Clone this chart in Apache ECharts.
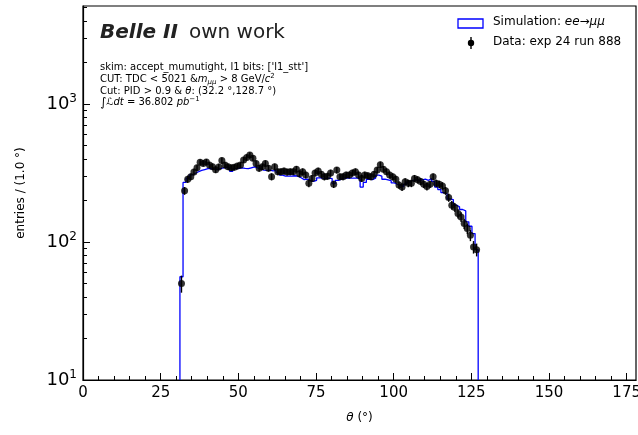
<!DOCTYPE html>
<html><head><meta charset="utf-8">
<script src="https://cdn.jsdelivr.net/npm/echarts@6/dist/echarts.min.js"></script>
<style>html,body{margin:0;padding:0;background:#fff}#c{width:638px;height:435px}</style>
</head><body><div id="c"></div><script>
// ---- data ----
const binStart = 31.2;   // first bin edge (deg)
const binWidth = 1.0;    // deg
const dataCounts = [50,235,285,297,321,345,378,371,380,361,
351,334,350,389,361,351,345,348,355,361,
392,410,427,405,370,342,351,371,342,297,
351,323,323,327,321,323,323,337,312,323,
306,266,289,316,327,310,297,300,316,262,
332,297,297,306,306,316,323,306,289,306,
302,297,310,332,363,337,323,306,297,285,
259,250,273,266,266,289,282,274,262,252,
262,297,266,262,255,235,210,185,178,161,
152,136,125,112,92,88];
const simCounts = [56,270,290,306,315,323,330,335,340,340,
338,335,340,345,348,345,325,340,342,345,
342,340,345,350,345,338,332,330,332,328,
330,318,305,300,300,300,302,300,292,283,
285,280,275,280,292,290,288,290,288,265,
280,285,290,292,290,290,290,288,250,270,
285,283,290,305,300,285,282,278,268,262,
258,252,262,272,280,282,278,282,285,280,
288,275,250,240,228,224,205,203,185,180,
172,168,140,130,115,88];
const xMajorTicks = [0,25,50,75,100,125,150,175];
const xMinorTicks = [5,10,15,20,30,35,40,45,55,60,65,70,80,85,90,95,105,110,115,120,130,135,140,145,155,160,165,170];
const yMajorTicks = [10,100,1000];
const yMinorTicks = [20,30,40,50,60,70,80,90,200,300,400,500,600,700,800,900,2000,3000,4000,5000];
const xRange = [0, 178];
const yRange = [10, 5130];

// ---- build series ----
const simLine = [[binStart, yRange[0]]];
simCounts.forEach((v, i) => simLine.push([binStart + i * binWidth, v]));
simLine.push([binStart + simCounts.length * binWidth, simCounts[simCounts.length - 1]]);
simLine.push([binStart + simCounts.length * binWidth, yRange[0]]);
const dataPts = dataCounts.map((v, i) => [binStart + (i + 0.5) * binWidth, v, Math.sqrt(v)]);

const FONT = 'DejaVu Sans';
const chart = echarts.init(document.getElementById('c'), null, {renderer: 'canvas'});
const tickStyle = {color: '#000', width: 1};
chart.setOption({
  animation: false,
  backgroundColor: '#fff',
  grid: {left: 83, right: 2, top: 6, bottom: 55, outerBoundsMode: 'none', containLabel: false,
    show: true, borderColor: '#000', borderWidth: 1.2, backgroundColor: 'transparent'},
  xAxis: [{
    type: 'value', min: xRange[0], max: xRange[1],
    axisLine: {show: true, lineStyle: {color: '#000', width: 1.2}},
    axisTick: {show: true, inside: true, length: 7, customValues: xMajorTicks, lineStyle: tickStyle},
    axisLabel: {customValues: xMajorTicks, color: '#000', fontFamily: FONT, fontSize: 15, margin: 6, hideOverlap: false},
    splitLine: {show: false},
    name: '{i|θ} (°)', nameLocation: 'middle', nameGap: 32,
    nameTextStyle: {fontFamily: FONT, fontSize: 12, color: '#000', rich: {i: {fontStyle: 'italic', fontFamily: FONT, fontSize: 12}}}
  }, {
    type: 'value', min: xRange[0], max: xRange[1], position: 'bottom',
    axisLine: {show: false},
    axisTick: {show: true, inside: true, length: 4, customValues: xMinorTicks, lineStyle: tickStyle},
    axisLabel: {show: false}, splitLine: {show: false}
  }],
  yAxis: [{
    type: 'log', logBase: 10, min: yRange[0], max: yRange[1],
    axisLine: {show: true, lineStyle: {color: '#000', width: 1.2}},
    axisTick: {show: true, inside: true, length: 7, customValues: yMajorTicks, lineStyle: tickStyle},
    axisLabel: {customValues: yMajorTicks, margin: 6,
      formatter: v => '{b|10}{s|' + Math.round(Math.log10(v)) + '}',
      rich: {b: {fontFamily: FONT, fontSize: 18, color: '#000'}, s: {fontFamily: FONT, fontSize: 12, color: '#000', padding: [0, 0, 10, 0]}}},
    splitLine: {show: false},
    name: 'entries / (1.0 °)', nameLocation: 'middle', nameGap: 56, nameRotate: 90,
    nameTextStyle: {fontFamily: FONT, fontSize: 12, color: '#000'}
  }, {
    type: 'log', logBase: 10, min: yRange[0], max: yRange[1], position: 'left',
    axisLine: {show: false},
    axisTick: {show: true, inside: true, length: 4, customValues: yMinorTicks, lineStyle: tickStyle},
    axisLabel: {show: false}, splitLine: {show: false}
  }],
  series: [{
    name: 'sim', type: 'line', step: 'end', data: simLine, showSymbol: false, symbol: 'none',
    lineStyle: {color: '#0000ff', width: 1.3}, clip: true, z: 2
  }, {
    name: 'errors', type: 'custom', data: dataPts, z: 3,
    renderItem: (params, api) => {
      const x = api.value(0), y = api.value(1), e = api.value(2);
      const p1 = api.coord([x, y + e]);
      const p2 = api.coord([x, Math.max(y - e, 1e-3)]);
      return {type: 'line', shape: {x1: p1[0], y1: p1[1], x2: p2[0], y2: p2[1]}, style: {stroke: '#000', lineWidth: 1.4}};
    }
  }, {
    name: 'data', type: 'scatter', data: dataPts.map(d => [d[0], d[1]]), symbol: 'circle', symbolSize: 7,
    itemStyle: {color: '#000'}, z: 4
  }],
  graphic: [
    {type: 'text', left: 100, top: 23, style: {text: '{b|Belle II}{n|own work}', rich: {
      b: {fontFamily: FONT, fontSize: 20, fontWeight: 'bold', fontStyle: 'italic', fill: '#222', padding: [0, 11, 0, 0]},
      n: {fontFamily: FONT, fontSize: 20, fill: '#222'}}}},
    {type: 'text', left: 100, top: 62, style: {text: "skim: accept_mumutight, l1 bits: ['l1_stt']", fontFamily: FONT, fontSize: 10, fill: '#000'}},
    {type: 'text', left: 100, top: 73, style: {text: 'CUT: TDC < 5021 &{i|m}{sub|μμ} > 8 GeV/{i|c}{sup|2}', fontFamily: FONT, fontSize: 10, fill: '#000',
      rich: {i: {fontFamily: FONT, fontSize: 10, fontStyle: 'italic'}, sub: {fontFamily: FONT, fontSize: 7, fontStyle: 'italic', padding: [5, 0, 0, 0]}, sup: {fontFamily: FONT, fontSize: 7, padding: [0, 0, 6, 0]}}}},
    {type: 'text', left: 100, top: 86, style: {text: 'Cut: PID > 0.9 & {i|θ}: (32.2 °,128.7 °)', fontFamily: FONT, fontSize: 10, fill: '#000',
      rich: {i: {fontFamily: FONT, fontSize: 10, fontStyle: 'italic'}}}},
    {type: 'text', left: 100, top: 96, style: {text: '{int|∫}{i|ℒdt} = 36.802 {i|pb}{sup|−1}', fontFamily: FONT, fontSize: 10, fill: '#000',
      rich: {int: {fontFamily: FONT, fontSize: 12}, i: {fontFamily: FONT, fontSize: 10, fontStyle: 'italic'}, sup: {fontFamily: FONT, fontSize: 7, padding: [0, 0, 6, 0]}}}},
    // legend
    {type: 'rect', shape: {x: 458, y: 19, width: 25, height: 9}, style: {fill: '#fff', stroke: '#0000ff', lineWidth: 1.3}},
    {type: 'text', left: 493, top: 16, style: {text: 'Simulation: {i|ee}→{i|μμ}', fontFamily: FONT, fontSize: 12, fill: '#000',
      rich: {i: {fontFamily: FONT, fontSize: 12, fontStyle: 'italic'}}}},
    {type: 'line', shape: {x1: 471, y1: 37, x2: 471, y2: 49}, style: {stroke: '#000', lineWidth: 1.4}},
    {type: 'circle', shape: {cx: 471, cy: 43, r: 3.2}, style: {fill: '#000'}},
    {type: 'text', left: 493, top: 36, style: {text: 'Data: exp 24 run 888', fontFamily: FONT, fontSize: 12, fill: '#000'}}
  ]
});
</script></body></html>
